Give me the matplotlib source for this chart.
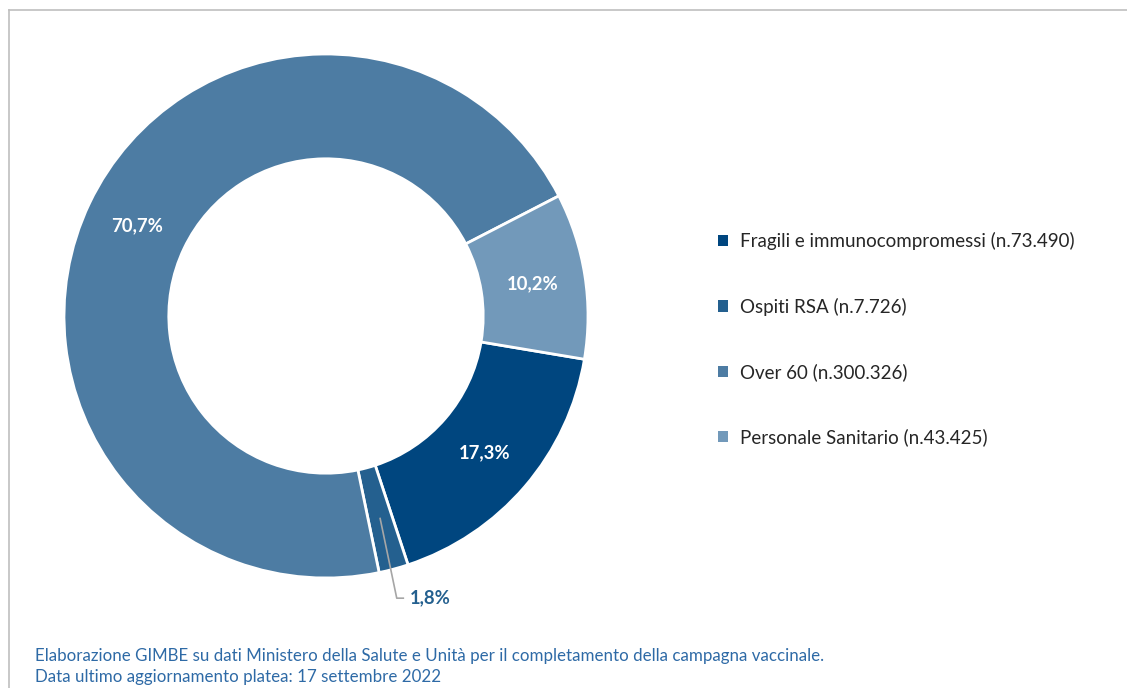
import matplotlib.pyplot as plt
from matplotlib.patches import Patch
from matplotlib.lines import Line2D
import numpy as np

plt.rcParams['font.family'] = ['Lato', 'DejaVu Sans']

# Platea vaccinale per categoria
categories = ["Fragili e immunocompromessi", "Ospiti RSA", "Over 60", "Personale Sanitario"]
counts = [73490, 7726, 300326, 43425]
count_labels = ["73.490", "7.726", "300.326", "43.425"]
colors = ["#00467F", "#24608F", "#4D7CA3", "#7299BA"]

footer_lines = [
    "Elaborazione GIMBE su dati Ministero della Salute e Unità per il completamento della campagna vaccinale.",
    "Data ultimo aggiornamento platea: 17 settembre 2022",
]

W, H = 1127, 688
fig = plt.figure(figsize=(W / 100, H / 100), dpi=100)

# light grey frame (top and left edges only are inside the image)
fx, fy = 8.5 / W, 1 - 9.5 / H
fig.lines.append(Line2D([fx, 1.0], [fy, fy], transform=fig.transFigure, color="#BFBFBF", linewidth=1.2))
fig.lines.append(Line2D([fx, fx], [0.0, fy], transform=fig.transFigure, color="#BFBFBF", linewidth=1.2))

# donut: centre (326, 316), outer radius 262 px
cx, cy, r = 326, 316, 262
ax = fig.add_axes([(cx - r) / W, (H - cy - r) / H, 2 * r / W, 2 * r / H])

total = sum(counts)
pcts = [c / total * 100 for c in counts]
wedges, _ = ax.pie(counts, colors=colors, startangle=-9.5, counterclock=False,
                   radius=1.0, wedgeprops=dict(width=0.40, edgecolor="white", linewidth=2))
ax.set_xlim(-1, 1)
ax.set_ylim(-1, 1)
ax.axis("off")

def fmt(p):
    return f"{p:.1f}".replace(".", ",") + "%"

label_r = 0.80
for i, (w, p) in enumerate(zip(wedges, pcts)):
    mid = np.deg2rad((w.theta1 + w.theta2) / 2)
    x, y = label_r * np.cos(mid), label_r * np.sin(mid)
    if p < 5:
        # small slice: label outside with a leader line
        lx, ly = 0.27, -1.077
        ax.plot([x, lx, lx + 0.025], [y, ly, ly], color="#A6A6A6", linewidth=1.2, clip_on=False)
        ax.text(lx + 0.05, ly, fmt(p), ha="left", va="center", fontsize=13.3,
                fontweight="bold", color="#24608F", clip_on=False)
    else:
        ax.text(x, y, fmt(p), ha="center", va="center", fontsize=13.3,
                fontweight="bold", color="white")

handles = [Patch(facecolor=c, edgecolor="none") for c in colors]
labels = [f"{c} (n.{n})" for c, n in zip(categories, count_labels)]
fig.legend(handles, labels, loc="upper left", bbox_to_anchor=(718 / W, 1 - 232 / H),
           frameon=False, fontsize=13.5, handlelength=0.55, handleheight=0.55,
           handletextpad=0.6, labelspacing=2.53, borderpad=0, borderaxespad=0,
           labelcolor="#262626")

fig.text(35 / W, 1 - 656 / H, footer_lines[0], ha="left", va="center",
         fontsize=12.2, color="#2E6AA6")
fig.text(35 / W, 1 - 677 / H, footer_lines[1], ha="left", va="center",
         fontsize=12.2, color="#2E6AA6")

fig.savefig("out.png", dpi=100)
